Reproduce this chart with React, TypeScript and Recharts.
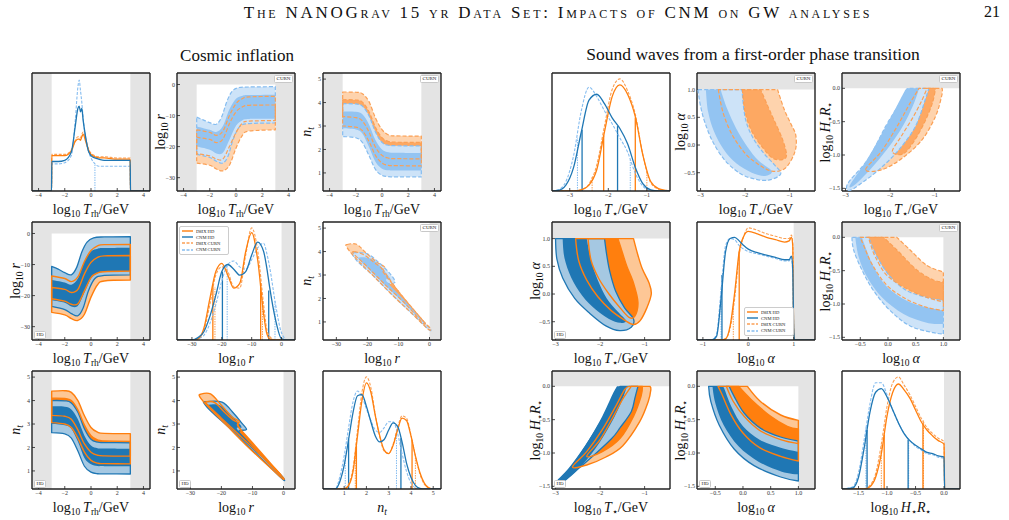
import React from "react";
import {
  ComposedChart,
  Line,
  ReferenceArea,
  ReferenceLine,
  Scatter,
  ScatterChart,
  XAxis,
  YAxis,
} from "recharts";

type Pt = [number, number];
type F = (v: number) => string;

// ---------------- 1D marginals: cosmic inflation ----------------
const trhGrid = [-4.5, -3.01, -2.99, -2.5, -2, -1.5, -1.2, -1.0, -0.9, -0.8, -0.7, -0.6, -0.4, -0.2, 0, 0.3, 0.6, 1, 2, 2.99, 3.01, 4.5];
const trhD8HD = [0, 0, 0.3, 0.3, 0.3, 0.34, 0.42, 0.44, 0.44, 0.43, 0.46, 0.48, 0.42, 0.35, 0.31, 0.29, 0.28, 0.28, 0.27, 0.27, 0, 0];
const trhCnmHD = [0, 0, 0.25, 0.25, 0.26, 0.33, 0.55, 0.7, 0.72, 0.67, 0.7, 0.6, 0.45, 0.34, 0.3, 0.28, 0.27, 0.26, 0.26, 0.26, 0, 0];
const trhD8CU = [0, 0, 0.31, 0.31, 0.31, 0.35, 0.43, 0.46, 0.46, 0.45, 0.48, 0.5, 0.44, 0.36, 0.32, 0.3, 0.29, 0.29, 0.28, 0.28, 0, 0];
const trhCnmCU = [0, 0, 0.23, 0.23, 0.24, 0.3, 0.6, 0.88, 0.94, 0.85, 0.75, 0.62, 0.45, 0.34, 0.28, 0.23, 0.21, 0.21, 0.21, 0.21, 0, 0];
const trhQCnmCU: Pt[] = [[0.3, 0.22]];

const logrGrid = [-35, -30, -28, -26, -24, -22, -20, -18, -16, -14, -12, -10, -8, -6, -5, -4, -2, 0, 2, 4.5];
const logrD8HD = [0, 0, 0.01, 0.1, 0.35, 0.58, 0.65, 0.55, 0.44, 0.48, 0.75, 0.91, 0.68, 0.22, 0.06, 0.01, 0, 0, 0, 0];
const logrCnmHD = [0, 0, 0.02, 0.07, 0.2, 0.38, 0.58, 0.64, 0.6, 0.55, 0.58, 0.72, 0.83, 0.75, 0.62, 0.45, 0.17, 0.01, 0, 0];
const logrD8CU = [0, 0, 0.01, 0.08, 0.3, 0.55, 0.62, 0.58, 0.45, 0.44, 0.72, 0.95, 0.76, 0.3, 0.1, 0.03, 0, 0, 0, 0];
const logrCnmCU = [0, 0, 0.01, 0.04, 0.14, 0.3, 0.5, 0.64, 0.67, 0.62, 0.6, 0.68, 0.78, 0.82, 0.74, 0.62, 0.3, 0.06, 0, 0];
const logrQD8HD: Pt[] = [[-23, 0.47], [-7, 0.46]];
const logrQCnmHD: Pt[] = [[-19.8, 0.58], [-4.3, 0.42]];
const logrQD8CU: Pt[] = [[-22.3, 0.45], [-6.4, 0.35]];
const logrQCnmCU: Pt[] = [[-18.2, 0.64], [-2.2, 0.33]];

const ntGrid = [0.05, 0.6, 0.8, 1.0, 1.2, 1.4, 1.6, 1.8, 2.0, 2.2, 2.4, 2.6, 2.8, 3.0, 3.2, 3.4, 3.6, 3.8, 4.0, 4.2, 4.4, 4.6, 4.8, 5.0, 5.35];
const ntCnmHD = [0, 0, 0.06, 0.2, 0.42, 0.65, 0.79, 0.8, 0.7, 0.57, 0.45, 0.4, 0.42, 0.5, 0.56, 0.53, 0.4, 0.22, 0.1, 0.03, 0.005, 0, 0, 0, 0];
const ntCnmCU = [0, 0, 0.1, 0.28, 0.52, 0.74, 0.83, 0.78, 0.68, 0.58, 0.5, 0.48, 0.52, 0.57, 0.57, 0.47, 0.3, 0.15, 0.05, 0.01, 0, 0, 0, 0, 0];
const ntD8HD = [0, 0, 0, 0, 0.03, 0.15, 0.45, 0.75, 0.9, 0.82, 0.62, 0.45, 0.33, 0.3, 0.37, 0.5, 0.6, 0.58, 0.45, 0.28, 0.14, 0.05, 0.01, 0, 0];
const ntD8CU = [0, 0, 0, 0, 0.04, 0.18, 0.5, 0.82, 0.95, 0.86, 0.63, 0.44, 0.32, 0.3, 0.38, 0.52, 0.62, 0.6, 0.46, 0.28, 0.13, 0.04, 0.01, 0, 0];
const ntQCnmHD: Pt[] = [[1.2, 0.42], [3.55, 0.43]];
const ntQCnmCU: Pt[] = [[1.05, 0.3], [3.35, 0.5]];
const ntQD8HD: Pt[] = [[1.55, 0.37], [4.05, 0.42]];
const ntQD8CU: Pt[] = [[1.5, 0.33], [4.2, 0.28]];

// ---------------- 1D marginals: sound waves ----------------
const tsGrid = [-3.46, -3.3, -3.1, -2.9, -2.7, -2.5, -2.3, -2.1, -1.9, -1.7, -1.5, -1.3, -1.1, -0.9, -0.7, -0.5, -0.4];
const tsCnmHD = [0, 0.005, 0.05, 0.2, 0.5, 0.77, 0.82, 0.74, 0.62, 0.53, 0.4, 0.2, 0.06, 0.01, 0, 0, 0];
const tsCnmCU = [0, 0.01, 0.08, 0.3, 0.68, 0.88, 0.8, 0.68, 0.57, 0.45, 0.33, 0.15, 0.04, 0.005, 0, 0, 0];
const tsD8HD = [0, 0, 0, 0, 0.01, 0.05, 0.18, 0.5, 0.8, 0.9, 0.82, 0.63, 0.3, 0.08, 0.02, 0.005, 0];
const tsD8CU = [0, 0, 0, 0, 0.01, 0.06, 0.22, 0.55, 0.86, 0.95, 0.85, 0.65, 0.3, 0.07, 0.015, 0, 0];
const tsQCnmHD: Pt[] = [[-2.68, 0.52], [-1.76, 0.55]];
const tsQCnmCU: Pt[] = [[-2.8, 0.45], [-1.43, 0.27]];
const tsQD8HD: Pt[] = [[-2.12, 0.47], [-1.3, 0.62]];
const tsQD8CU: Pt[] = [[-2.42, 0.12], [-1.0, 0.17]];

const alGrid = [-1.13, -0.8, -0.7, -0.6, -0.5, -0.4, -0.3, -0.2, -0.1, 0, 0.2, 0.4, 0.6, 0.8, 0.9, 0.95, 0.98, 1.0, 1.02, 1.1, 1.47];
const alCnmHD = [0, 0, 0.03, 0.35, 0.75, 0.86, 0.87, 0.84, 0.8, 0.77, 0.74, 0.72, 0.7, 0.68, 0.68, 0.71, 0.6, 0.1, 0, 0, 0];
const alCnmCU = [0, 0, 0.05, 0.42, 0.8, 0.86, 0.85, 0.8, 0.77, 0.75, 0.73, 0.71, 0.69, 0.67, 0.67, 0.7, 0.55, 0.1, 0, 0, 0];
const alD8HD = [0, 0, 0, 0, 0.01, 0.12, 0.4, 0.75, 0.88, 0.92, 0.9, 0.87, 0.85, 0.83, 0.84, 0.87, 0.8, 0.1, 0, 0, 0];
const alD8CU = [0, 0, 0, 0, 0.01, 0.1, 0.35, 0.72, 0.88, 0.95, 0.93, 0.9, 0.88, 0.86, 0.86, 0.89, 0.82, 0.1, 0, 0, 0];
const alQCnmHD: Pt[] = [[-0.58, 0.55]];
const alQCnmCU: Pt[] = [[-0.6, 0.45]];
const alQD8HD: Pt[] = [[-0.2, 0.75]];
const alQD8CU: Pt[] = [[-0.33, 0.3]];

const hrGrid = [-1.79, -1.6, -1.5, -1.4, -1.3, -1.2, -1.1, -1.0, -0.9, -0.8, -0.7, -0.6, -0.5, -0.4, -0.3, -0.2, -0.1, 0, 0.01, 0.28];
const hrCnmHD = [0, 0.01, 0.1, 0.35, 0.65, 0.82, 0.85, 0.78, 0.67, 0.56, 0.47, 0.41, 0.37, 0.34, 0.31, 0.3, 0.28, 0.27, 0, 0];
const hrCnmCU = [0, 0.02, 0.14, 0.42, 0.72, 0.9, 0.9, 0.8, 0.67, 0.56, 0.47, 0.41, 0.36, 0.33, 0.3, 0.29, 0.27, 0.26, 0, 0];
const hrD8HD = [0, 0, 0, 0, 0.02, 0.1, 0.3, 0.62, 0.82, 0.89, 0.84, 0.77, 0.67, 0.57, 0.5, 0.45, 0.41, 0.38, 0, 0];
const hrD8CU = [0, 0, 0, 0, 0.03, 0.13, 0.38, 0.7, 0.9, 0.95, 0.88, 0.8, 0.7, 0.6, 0.52, 0.47, 0.43, 0.4, 0, 0];
const hrQCnmHD: Pt[] = [[-1.35, 0.5], [-0.63, 0.42]];
const hrQCnmCU: Pt[] = [[-1.37, 0.52], [-0.62, 0.41]];
const hrQD8HD: Pt[] = [[-1.05, 0.46], [-0.37, 0.55]];
const hrQD8CU: Pt[] = [[-1.1, 0.38], [-0.36, 0.58]];

// ---------------- 2D contours: log10 Trh vs log10 r ----------------
const trhRHdB2Up: Pt[] = [[-3, -10.6], [-2.5, -11.5], [-2, -12.6], [-1.5, -13.3], [-1.1, -11], [-0.7, -6], [-0.3, -2.8], [0.2, -1.4], [1, -1.1], [3, -1.0]];
const trhRHdB2Lo: Pt[] = [[-3, -23.5], [-2, -24.5], [-1.5, -25.8], [-1, -26.5], [-0.6, -24], [-0.2, -18.5], [0.3, -14.5], [1, -13.5], [3, -13.3]];
const trhRHdB1Up: Pt[] = [[-3, -15], [-2, -15.8], [-1.5, -16.5], [-1, -14.5], [-0.5, -9], [0, -5.8], [0.5, -4.9], [1, -4.7], [3, -4.6]];
const trhRHdB1Lo: Pt[] = [[-3, -21.5], [-2, -22.3], [-1.5, -23.5], [-1, -23.3], [-0.5, -19], [0, -14.5], [0.5, -12.8], [1, -12.4], [3, -12.2]];
const trhRHdO2Up: Pt[] = [[-3, -13.7], [-2, -14.5], [-1.5, -15.5], [-1, -14], [-0.5, -9], [0, -5.5], [0.5, -4], [1, -3.6], [3, -3.5]];
const trhRHdO2Lo: Pt[] = [[-3, -25.4], [-2, -26.2], [-1.5, -27.4], [-1, -28], [-0.5, -26], [0, -20.5], [0.5, -16.5], [1, -15.3], [3, -15]];
const trhRHdO1Up: Pt[] = [[-3, -17.4], [-2, -18], [-1.5, -19], [-1, -18], [-0.5, -13], [0, -9.3], [0.5, -7.7], [1, -7.2], [3, -7.1]];
const trhRHdO1Lo: Pt[] = [[-3, -21], [-2, -21.8], [-1.5, -22.8], [-1, -22.6], [-0.5, -18.5], [0, -14.2], [0.5, -12.7], [1, -12.3], [3, -12.1]];

const trhRCuB2Up: Pt[] = [[-3, -10.5], [-2.5, -11.4], [-2, -12.3], [-1.5, -12.8], [-1.1, -10.5], [-0.7, -5.5], [-0.3, -2.2], [0.2, -1.0], [1, -0.8], [3, -0.7]];
const trhRCuB2Lo: Pt[] = [[-3, -22.5], [-2, -23.5], [-1.5, -24.7], [-1, -25.3], [-0.6, -23], [-0.2, -17.5], [0.3, -13.5], [1, -12.6], [3, -12.4]];
const trhRCuB1Up: Pt[] = [[-3, -13.5], [-2, -14.6], [-1.5, -15.3], [-1, -13.4], [-0.5, -8], [0, -4.6], [0.5, -3.6], [1, -3.4], [3, -3.3]];
const trhRCuB1Lo: Pt[] = [[-3, -20], [-2, -21], [-1.5, -22.2], [-1, -22], [-0.5, -17.8], [0, -13.3], [0.5, -11.5], [1, -11.1], [3, -11]];
const trhRCuO2Up: Pt[] = [[-3, -14.6], [-2, -15.4], [-1.5, -16.4], [-1, -15], [-0.5, -10], [0, -6.2], [0.5, -4.5], [1, -4], [3, -3.8]];
const trhRCuO2Lo: Pt[] = [[-3, -25.3], [-2, -26], [-1.5, -27.2], [-1, -27.8], [-0.5, -26], [0, -20.5], [0.5, -16.3], [1, -15], [3, -14.6]];
const trhRCuO1Up: Pt[] = [[-3, -17], [-2, -17.7], [-1.5, -18.7], [-1, -17.6], [-0.5, -12.6], [0, -8.8], [0.5, -7.2], [1, -6.7], [3, -6.6]];
const trhRCuO1Lo: Pt[] = [[-3, -22.3], [-2, -23], [-1.5, -24], [-1, -24], [-0.5, -20], [0, -15.5], [0.5, -12.4], [1, -11.8], [3, -11.6]];

// ---------------- 2D contours: log10 Trh vs n_t ----------------
const trhNHdO2Up: Pt[] = [[-3, 4.4], [-2, 4.42], [-1.5, 4.35], [-1, 4.0], [-0.5, 3.35], [0, 2.85], [0.5, 2.65], [1, 2.6], [3, 2.59]];
const trhNHdO2Lo: Pt[] = [[-3, 3.06], [-2, 3.0], [-1.5, 2.85], [-1, 2.4], [-0.5, 1.8], [0, 1.45], [0.5, 1.33], [1, 1.31], [3, 1.3]];
const trhNHdO1Up: Pt[] = [[-3, 4.1], [-2, 4.09], [-1.5, 4.0], [-1, 3.6], [-0.5, 2.95], [0, 2.5], [0.5, 2.32], [1, 2.28], [3, 2.26]];
const trhNHdO1Lo: Pt[] = [[-3, 3.37], [-2, 3.33], [-1.5, 3.2], [-1, 2.75], [-0.5, 2.15], [0, 1.8], [0.5, 1.67], [1, 1.64], [3, 1.63]];
const trhNHdB2Up: Pt[] = [[-3, 4.0], [-2, 3.99], [-1.5, 3.9], [-1, 3.5], [-0.5, 2.8], [0, 2.35], [0.5, 2.23], [1, 2.21], [3, 2.2]];
const trhNHdB2Lo: Pt[] = [[-3, 2.63], [-2, 2.58], [-1.5, 2.4], [-1, 1.85], [-0.5, 1.2], [0, 0.95], [0.5, 0.88], [1, 0.875], [3, 0.87]];
const trhNHdB1Up: Pt[] = [[-3, 3.75], [-2, 3.74], [-1.5, 3.62], [-1, 3.2], [-0.5, 2.5], [0, 2.08], [0.5, 1.97], [1, 1.96], [3, 1.95]];
const trhNHdB1Lo: Pt[] = [[-3, 3.0], [-2, 2.95], [-1.5, 2.8], [-1, 2.25], [-0.5, 1.55], [0, 1.28], [0.5, 1.21], [1, 1.205], [3, 1.2]];

const trhNCuO2Up: Pt[] = [[-3, 4.45], [-2, 4.44], [-1.5, 4.38], [-1, 4.05], [-0.5, 3.35], [0, 2.85], [0.5, 2.62], [1, 2.58], [3, 2.57]];
const trhNCuO2Lo: Pt[] = [[-3, 3.0], [-2, 2.95], [-1.5, 2.8], [-1, 2.35], [-0.5, 1.75], [0, 1.42], [0.5, 1.32], [1, 1.31], [3, 1.3]];
const trhNCuO1Up: Pt[] = [[-3, 4.12], [-2, 4.11], [-1.5, 4.02], [-1, 3.62], [-0.5, 2.95], [0, 2.5], [0.5, 2.34], [1, 2.31], [3, 2.3]];
const trhNCuO1Lo: Pt[] = [[-3, 3.4], [-2, 3.36], [-1.5, 3.22], [-1, 2.75], [-0.5, 2.1], [0, 1.75], [0.5, 1.63], [1, 1.61], [3, 1.6]];
const trhNCuB2Up: Pt[] = [[-3, 3.95], [-2, 3.94], [-1.5, 3.85], [-1, 3.45], [-0.5, 2.75], [0, 2.3], [0.5, 2.18], [1, 2.16], [3, 2.15]];
const trhNCuB2Lo: Pt[] = [[-3, 2.55], [-2, 2.5], [-1.5, 2.3], [-1, 1.75], [-0.5, 1.15], [0, 0.9], [0.5, 0.84], [1, 0.835], [3, 0.83]];
const trhNCuB1Up: Pt[] = [[-3, 3.62], [-2, 3.61], [-1.5, 3.5], [-1, 3.08], [-0.5, 2.4], [0, 2.0], [0.5, 1.88], [1, 1.86], [3, 1.85]];
const trhNCuB1Lo: Pt[] = [[-3, 2.9], [-2, 2.85], [-1.5, 2.68], [-1, 2.12], [-0.5, 1.48], [0, 1.18], [0.5, 1.11], [1, 1.105], [3, 1.1]];

// ---------------- 2D contours: log10 r vs n_t ----------------
const rNHdO2: Pt[] = [[-26.7, 4.27], [-23.5, 4.28], [-20, 3.8], [-16.6, 3.3], [-14.3, 3.12], [-14.5, 2.9], [-10, 2.1], [-5, 1.4], [-1, 0.85], [0.1, 0.68], [-0.6, 0.7], [-6, 1.35], [-12, 2.1], [-18, 2.9], [-24, 3.7], [-26.9, 4.15]];
const rNHdO1: Pt[] = [[-24.5, 3.95], [-22, 3.9], [-19, 3.5], [-16.5, 3.2], [-14.5, 3.05], [-14.6, 2.9], [-10, 2.2], [-4, 1.3], [-1, 0.85], [-2, 0.95], [-8, 1.75], [-14, 2.5], [-20, 3.25], [-24.7, 3.85]];
const rNHdB2: Pt[] = [[-25.2, 3.95], [-19.8, 3.93], [-16, 3.45], [-13.5, 3.05], [-11.9, 2.77], [-14, 2.72], [-14.2, 2.6], [-10, 2.05], [-5, 1.38], [-1, 0.85], [0.2, 0.66], [-0.3, 0.65], [-6, 1.38], [-12, 2.12], [-18, 2.9], [-23, 3.5], [-25.4, 3.85]];
const rNHdB1: Pt[] = [[-24, 3.82], [-20.5, 3.8], [-17, 3.4], [-14.5, 3.05], [-13.5, 2.85], [-15, 2.8], [-11, 2.2], [-6, 1.5], [-2, 1.0], [-1.6, 0.93], [-7, 1.58], [-13, 2.3], [-19, 3.1], [-24.2, 3.75]];

const rNCuO2: Pt[] = [[-26.5, 4.3], [-23.5, 4.31], [-20.5, 3.95], [-17, 3.55], [-14.5, 3.35], [-14.8, 3.2], [-10, 2.3], [-5, 1.5], [-1, 0.9], [0.3, 0.72], [-0.5, 0.7], [-6, 1.4], [-12, 2.15], [-18, 2.95], [-24, 3.75], [-26.7, 4.2]];
const rNCuO1: Pt[] = [[-24.2, 4.0], [-21, 3.85], [-18, 3.55], [-15.5, 3.3], [-14.8, 3.1], [-10, 2.3], [-4, 1.35], [-1.5, 0.95], [-2.5, 1.0], [-8, 1.8], [-14, 2.55], [-20, 3.35], [-24.4, 3.9]];
const rNCuB2: Pt[] = [[-24.5, 3.95], [-20, 3.9], [-16.5, 3.55], [-13, 3.1], [-11.1, 2.72], [-12.5, 2.62], [-13.5, 2.62], [-10, 2.1], [-5, 1.42], [-1, 0.88], [0.3, 0.7], [-0.3, 0.68], [-6, 1.4], [-12, 2.15], [-18, 2.95], [-23, 3.55], [-24.7, 3.85]];
const rNCuB1: Pt[] = [[-22.5, 3.75], [-19, 3.7], [-16, 3.4], [-13.5, 3.0], [-12.5, 2.8], [-14, 2.78], [-10.5, 2.25], [-5, 1.5], [-2, 1.05], [-2.5, 1.05], [-7, 1.65], [-13, 2.4], [-18.5, 3.1], [-22.6, 3.65]];

// ---------------- 2D contours: log10 T* vs log10 alpha ----------------
const taCuB2: Pt[] = [[-3.06, 1.0], [-3.0, 0.7], [-2.9, 0.4], [-2.72, 0.05], [-2.45, -0.28], [-2.1, -0.52], [-1.75, -0.62], [-1.45, -0.63], [-1.2, -0.52], [-1.35, -0.35], [-1.6, -0.13], [-1.85, 0.17], [-2.0, 0.5], [-2.07, 1.0]];
const taCuB1: Pt[] = [[-2.88, 1.0], [-2.83, 0.6], [-2.7, 0.25], [-2.48, -0.08], [-2.2, -0.33], [-1.85, -0.5], [-1.55, -0.56], [-1.4, -0.47], [-1.7, -0.28], [-1.95, -0.03], [-2.2, 0.3], [-2.4, 0.65], [-2.55, 1.0]];
const taCuO2: Pt[] = [[-2.6, 1.0], [-2.5, 0.6], [-2.3, 0.2], [-2.0, -0.15], [-1.7, -0.35], [-1.4, -0.47], [-1.1, -0.42], [-0.88, -0.12], [-0.86, 0.17], [-0.97, 0.38], [-1.12, 0.64], [-1.27, 1.0]];
const taCuO1: Pt[] = [[-2.06, 1.0], [-2.0, 0.6], [-1.85, 0.25], [-1.6, -0.05], [-1.35, -0.25], [-1.08, -0.22], [-1.15, 0.08], [-1.35, 0.45], [-1.5, 0.72], [-1.65, 1.0]];

const taHdB2: Pt[] = [[-3.0, 1.0], [-2.97, 0.63], [-2.84, 0.29], [-2.57, -0.08], [-2.23, -0.35], [-1.86, -0.58], [-1.56, -0.66], [-1.3, -0.6], [-1.25, -0.45], [-1.45, -0.25], [-1.65, 0.05], [-1.78, 0.4], [-1.85, 0.7], [-1.9, 1.0]];
const taHdB1: Pt[] = [[-2.84, 1.0], [-2.8, 0.65], [-2.65, 0.3], [-2.4, -0.03], [-2.1, -0.28], [-1.8, -0.45], [-1.55, -0.52], [-1.42, -0.48], [-1.6, -0.32], [-1.85, -0.08], [-2.05, 0.25], [-2.2, 0.6], [-2.3, 1.0]];
const taHdO2: Pt[] = [[-2.55, 1.0], [-2.48, 0.6], [-2.3, 0.25], [-2.05, -0.05], [-1.75, -0.3], [-1.45, -0.47], [-1.25, -0.55], [-1.1, -0.48], [-0.95, -0.25], [-0.85, 0.0], [-0.9, 0.2], [-1.05, 0.45], [-1.15, 0.7], [-1.25, 1.0]];
const taHdO1: Pt[] = [[-2.27, 1.0], [-2.2, 0.6], [-2.03, 0.28], [-1.8, 0.0], [-1.55, -0.25], [-1.35, -0.42], [-1.22, -0.4], [-1.15, -0.15], [-1.25, 0.2], [-1.4, 0.5], [-1.5, 0.75], [-1.6, 1.0]];

// ---------------- 2D contours: log10 T* vs log10 H*R* ----------------
const thCuB2: Pt[] = [[-2.98, -1.5], [-2.9, -1.38], [-2.48, -1.05], [-2.1, -0.57], [-1.8, -0.24], [-1.6, 0], [-1.13, 0], [-1.2, -0.15], [-1.43, -0.57], [-1.8, -0.92], [-2.25, -1.22], [-2.7, -1.45], [-2.9, -1.53]];
const thCuB1: Pt[] = [[-2.9, -1.45], [-2.55, -1.1], [-2.2, -0.7], [-1.9, -0.33], [-1.68, -0.05], [-1.62, 0], [-1.35, 0], [-1.45, -0.2], [-1.7, -0.55], [-2.05, -0.9], [-2.45, -1.22], [-2.8, -1.45]];
const thCuO2: Pt[] = [[-2.55, -1.22], [-2.2, -0.95], [-1.85, -0.58], [-1.55, -0.22], [-1.35, 0], [-0.83, 0], [-0.84, -0.11], [-0.98, -0.42], [-1.28, -0.77], [-1.73, -1.05], [-2.18, -1.22]];
const thCuO1: Pt[] = [[-1.95, -0.95], [-1.75, -0.72], [-1.5, -0.45], [-1.3, -0.2], [-1.17, 0], [-0.98, 0], [-1.05, -0.22], [-1.22, -0.5], [-1.45, -0.78], [-1.7, -0.98]];

const thHdB2: Pt[] = [[-3.0, -1.45], [-2.7, -1.24], [-2.32, -0.89], [-1.94, -0.48], [-1.68, -0.13], [-1.55, 0], [-1.15, 0], [-1.22, -0.18], [-1.3, -0.38], [-1.55, -0.62], [-1.75, -0.79], [-2.32, -1.14], [-2.77, -1.39], [-2.95, -1.5]];
const thHdB1: Pt[] = [[-2.95, -1.43], [-2.6, -1.15], [-2.25, -0.8], [-1.95, -0.45], [-1.72, -0.12], [-1.62, 0], [-1.4, 0], [-1.5, -0.2], [-1.75, -0.55], [-2.1, -0.93], [-2.5, -1.25], [-2.85, -1.45]];
const thHdO2: Pt[] = [[-2.62, -1.21], [-2.3, -0.98], [-1.95, -0.65], [-1.65, -0.3], [-1.45, -0.05], [-1.35, 0], [-0.88, 0], [-0.86, -0.05], [-0.92, -0.23], [-1.11, -0.53], [-1.49, -0.89], [-1.87, -1.06], [-2.3, -1.18]];
const thHdO1: Pt[] = [[-2.3, -1.05], [-2.0, -0.8], [-1.7, -0.45], [-1.5, -0.2], [-1.3, 0], [-1.05, 0], [-1.08, -0.15], [-1.25, -0.45], [-1.55, -0.78], [-1.95, -0.98]];

// ---------------- 2D contours: log10 alpha vs log10 H*R* ----------------
const ahCuB2: Pt[] = [[-0.65, 0], [-0.62, -0.19], [-0.47, -0.49], [-0.26, -0.8], [0.04, -1.1], [0.4, -1.33], [0.82, -1.43], [1.0, -1.45], [1.0, -0.95], [0.7, -0.9], [0.34, -0.8], [0.04, -0.59], [-0.2, -0.29], [-0.32, -0.06], [-0.35, 0]];
const ahCuB1: Pt[] = [[-0.59, 0], [-0.53, -0.29], [-0.38, -0.59], [-0.11, -0.9], [0.28, -1.15], [0.7, -1.28], [1.0, -1.3], [1.0, -1.1], [0.7, -1.05], [0.34, -0.95], [-0.02, -0.74], [-0.26, -0.44], [-0.41, -0.14], [-0.47, 0]];
const ahCuO2: Pt[] = [[-0.5, 0], [0.16, 0], [0.4, -0.19], [0.7, -0.42], [1.0, -0.52], [1.0, -1.1], [0.7, -1.05], [0.34, -0.93], [-0.02, -0.72], [-0.29, -0.4], [-0.44, -0.12]];
const ahCuO1: Pt[] = [[-0.35, 0], [-0.08, 0], [0.16, -0.19], [0.52, -0.49], [0.82, -0.64], [1.0, -0.67], [1.0, -0.97], [0.7, -0.9], [0.34, -0.77], [-0.02, -0.57], [-0.23, -0.29], [-0.32, -0.09]];

const ahHdB2: Pt[] = [[-0.62, 0], [-0.58, -0.23], [-0.43, -0.58], [-0.16, -0.94], [0.2, -1.19], [0.68, -1.36], [1.0, -1.42], [1.0, -0.82], [0.68, -0.76], [0.32, -0.63], [0.02, -0.4], [-0.16, -0.15], [-0.25, 0]];
const ahHdB1: Pt[] = [[-0.55, 0], [-0.5, -0.25], [-0.35, -0.58], [-0.08, -0.9], [0.28, -1.13], [0.7, -1.28], [1.0, -1.32], [1.0, -0.98], [0.68, -0.92], [0.3, -0.8], [0.0, -0.6], [-0.2, -0.32], [-0.33, -0.05], [-0.36, 0]];
const ahHdO2: Pt[] = [[-0.45, 0], [0.08, 0], [0.32, -0.23], [0.68, -0.43], [1.0, -0.51], [1.0, -1.12], [0.68, -1.05], [0.3, -0.92], [0.0, -0.7], [-0.22, -0.42], [-0.38, -0.12]];
const ahHdO1: Pt[] = [[-0.3, 0], [-0.08, 0], [0.15, -0.2], [0.5, -0.45], [0.8, -0.6], [1.0, -0.64], [1.0, -0.86], [0.68, -0.8], [0.3, -0.66], [0.02, -0.45], [-0.18, -0.22]];

// ---------------- axis ticks ----------------
const trhTicks = [-4, -2, 0, 2, 4];
const logrTicks = [-30, -20, -10, 0];
const ntTicks = [1, 2, 3, 4, 5];
const tsTicks = [-3, -2, -1];
const alTicks2D = [-0.5, 0, 0.5, 1];
const alTicks1D = [-1, 0, 1];
const hrTicks = [-1.5, -1, -0.5, 0];
const densTicks = [0.2, 0.4, 0.6, 0.8];

// ---------------- styling ----------------
const HD_B = "#1f77b4";
const HD_B2 = "#a5c8e2";
const HD_O = "#ff7f0e";
const HD_O2 = "#fdc796";
const CU_BL = "#86bdf0";
const CU_B1 = "#93c4f2";
const CU_B2 = "#cde3f8";
const CU_OL = "#fba055";
const CU_O1 = "#fda862";
const CU_O2 = "#fed3ad";
const GREY = "#e4e4e4";
const FRAME = "#222";
const SERIF = "'Liberation Serif','DejaVu Serif','Times New Roman',serif";

const SIZE = 118;
const YW = 20;
const XH = 11;

const fmtInt: F = (v) => String(v).replace("-", "\u2212");
const fmt1: F = (v) => v.toFixed(1).replace("-", "\u2212");

type Spec = {
  x: number;
  y: number;
  xd: [number, number];
  yd: [number, number];
  xt: number[];
  yt: number[];
  xf: F;
  yf?: F;
  gx?: [number, number][];
  gy?: [number, number][];
};
type Clip = { x: number[]; y: number[] };

const band = (up: Pt[], lo: Pt[]): Pt[] => [...up, ...lo.slice().reverse()];

function pathOf(pts: { x: number; y: number }[], corner: boolean[]) {
  const n = pts.length;
  const k = 1 / 6;
  let d = `M${pts[0].x},${pts[0].y}`;
  for (let i = 0; i < n; i++) {
    const p0 = pts[(i - 1 + n) % n];
    const p1 = pts[i];
    const p2 = pts[(i + 1) % n];
    const p3 = pts[(i + 2) % n];
    const c1 = corner[i] ? p1 : { x: p1.x + (p2.x - p0.x) * k, y: p1.y + (p2.y - p0.y) * k };
    const c2 = corner[(i + 1) % n] ? p2 : { x: p2.x - (p3.x - p1.x) * k, y: p2.y - (p3.y - p1.y) * k };
    d += `C${c1.x},${c1.y} ${c2.x},${c2.y} ${p2.x},${p2.y}`;
  }
  return d + "Z";
}

function poly(key: string, pts: Pt[], clip: Clip, fill: string, stroke = "none", dash?: string, sw = 1.2) {
  const n = pts.length;
  const corner = pts.map((p, i) =>
    [pts[(i - 1 + n) % n], pts[(i + 1) % n]].some(
      (q) => (q[0] === p[0] && clip.x.includes(p[0])) || (q[1] === p[1] && clip.y.includes(p[1]))
    )
  );
  return (
    <Scatter
      key={key}
      data={pts.map(([x, y]) => ({ x, y }))}
      isAnimationActive={false}
      legendType="none"
      shape={() => <g />}
      line={(lp: any) => (
        <path
          d={pathOf(lp.points, corner)}
          fill={fill}
          stroke={stroke}
          strokeWidth={sw}
          strokeDasharray={dash}
          strokeLinejoin="round"
        />
      )}
    />
  );
}

// orange fills under blue, orange outlines on top
function hdSet(k: string, o2: Pt[], o1: Pt[], b2: Pt[], b1: Pt[], c: Clip) {
  return [
    poly(k + "o2", o2, c, HD_O2),
    poly(k + "o1", o1, c, HD_O),
    poly(k + "b2", b2, c, HD_B2, HD_B, undefined, 1.3),
    poly(k + "b1", b1, c, HD_B),
    poly(k + "o2l", o2, c, "none", HD_O, undefined, 1.4),
    poly(k + "o1l", o1, c, "none", HD_O, undefined, 1.4),
  ];
}

function cuSet(k: string, o2: Pt[], o1: Pt[], b2: Pt[], b1: Pt[], c: Clip) {
  return [
    poly(k + "o2", o2, c, CU_O2),
    poly(k + "o1", o1, c, CU_O1),
    poly(k + "b2", b2, c, CU_B2, CU_BL, "4 2", 1.2),
    poly(k + "b1", b1, c, CU_B1),
    poly(k + "o2l", o2, c, "none", CU_OL, "4 2", 1.2),
    poly(k + "o1l", o1, c, "none", CU_OL, "4 2", 1.2),
  ];
}

const tickStyle = { fontSize: 6, fill: "#333", fontFamily: SERIF };
const axisLine = { stroke: FRAME, strokeWidth: 1.4 };
const tickLine = { stroke: FRAME, strokeWidth: 0.8 };

function frame(s: Spec, twoD: boolean) {
  return [
    <XAxis key="xb" xAxisId={0} dataKey="x" type="number" domain={s.xd} ticks={s.xt} interval={0} allowDataOverflow height={XH} tickSize={-3} tickMargin={5} tick={tickStyle} tickFormatter={s.xf} axisLine={axisLine} tickLine={tickLine} />,
    <XAxis key="xt" xAxisId="t" orientation="top" type="number" domain={s.xd} ticks={s.xt} interval={0} allowDataOverflow height={1} tickSize={-3} tick={false} axisLine={axisLine} tickLine={tickLine} />,
    <YAxis key="yl" yAxisId={0} dataKey={twoD ? "y" : undefined} type="number" domain={s.yd} ticks={s.yt} interval={0} allowDataOverflow width={YW} tickSize={-3} tickMargin={5} tick={s.yf ? tickStyle : false} tickFormatter={s.yf} axisLine={axisLine} tickLine={tickLine} />,
    <YAxis key="yr" yAxisId="r" orientation="right" type="number" domain={s.yd} ticks={s.yt} interval={0} allowDataOverflow width={1} tickSize={-3} tick={false} axisLine={axisLine} tickLine={tickLine} />,
  ];
}

function greys(s: Spec) {
  return [
    ...(s.gx || []).map(([a, b], i) => (
      <ReferenceArea key={"gx" + i} x1={a} x2={b} fill={GREY} fillOpacity={1} stroke="none" ifOverflow="hidden" />
    )),
    ...(s.gy || []).map(([a, b], i) => (
      <ReferenceArea key={"gy" + i} y1={a} y2={b} fill={GREY} fillOpacity={1} stroke="none" ifOverflow="hidden" />
    )),
  ];
}

function Panel2D({ s, children }: { s: Spec; children: React.ReactNode }) {
  return (
    <div style={{ position: "absolute", left: s.x - YW, top: s.y - 3 }}>
      <ScatterChart width={SIZE + YW + 3} height={SIZE + XH + 3} margin={{ top: 2, right: 2, bottom: 0, left: 0 }}>
        {frame(s, true)}
        {greys(s)}
        {children}
      </ScatterChart>
    </div>
  );
}

type Quants = { oh: Pt[]; bh: Pt[]; oc: Pt[]; bc: Pt[] };

function quantLines(q: Quants) {
  const mk = (arr: Pt[], color: string, dash: string | undefined, k: string) =>
    arr.map(([x, h], i) => (
      <ReferenceLine key={k + i} segment={[{ x, y: 0 }, { x, y: h }]} stroke={color} strokeWidth={dash ? 1 : 1.3} strokeDasharray={dash} />
    ));
  return [
    ...mk(q.oc, CU_OL, "1.5 1", "qoc"),
    ...mk(q.bc, CU_BL, "1.5 1", "qbc"),
    ...mk(q.oh, HD_O, undefined, "qoh"),
    ...mk(q.bh, HD_B, undefined, "qbh"),
  ];
}

function Marginal({ s, grid, oh, bh, oc, bc, q }: { s: Spec; grid: number[]; oh: number[]; bh: number[]; oc: number[]; bc: number[]; q: Quants }) {
  const rows = grid.map((x, i) => ({ x, oh: oh[i], bh: bh[i], oc: oc[i], bc: bc[i] }));
  return (
    <div style={{ position: "absolute", left: s.x - YW, top: s.y - 3 }}>
      <ComposedChart width={SIZE + YW + 3} height={SIZE + XH + 3} data={rows} margin={{ top: 2, right: 2, bottom: 0, left: 0 }}>
        {frame(s, false)}
        {greys(s)}
        {quantLines(q)}
        <Line dataKey="oc" type="monotone" stroke={CU_OL} strokeWidth={1.1} strokeDasharray="3 1.5" dot={false} isAnimationActive={false} />
        <Line dataKey="bc" type="monotone" stroke={CU_BL} strokeWidth={1.1} strokeDasharray="3 1.5" dot={false} isAnimationActive={false} />
        <Line dataKey="oh" type="monotone" stroke={HD_O} strokeWidth={1.3} dot={false} isAnimationActive={false} />
        <Line dataKey="bh" type="monotone" stroke={HD_B} strokeWidth={1.3} dot={false} isAnimationActive={false} />
      </ComposedChart>
    </div>
  );
}

// ---------------- text helpers ----------------
const sub = (t: React.ReactNode) => (
  <sub style={{ fontSize: "0.68em", verticalAlign: "-0.32em", lineHeight: 0 }}>{t}</sub>
);
const STAR = "\u22C6";
const L = {
  trh: <>log{sub("10")}&thinsp;<i>T</i>{sub("rh")}/GeV</>,
  r: <>log{sub("10")}&thinsp;<i>r</i></>,
  nt: <><i>n</i>{sub(<i>t</i>)}</>,
  ts: <>log{sub("10")}&thinsp;<i>T</i>{sub(STAR)}/GeV</>,
  al: <>log{sub("10")}&thinsp;<i>α</i></>,
  hr: <>log{sub("10")}&thinsp;<i>H</i>{sub(STAR)}<i>R</i>{sub(STAR)}</>,
};

function Txt({ x, y, rot, size = 14, children, style }: { x: number; y: number; rot?: boolean; size?: number; children: React.ReactNode; style?: React.CSSProperties }) {
  return (
    <div
      style={{
        position: "absolute",
        left: x,
        top: y,
        transform: `translate(-50%,-50%)${rot ? " rotate(-90deg)" : ""}`,
        fontSize: size,
        fontFamily: SERIF,
        whiteSpace: "nowrap",
        lineHeight: 1,
        color: "#111",
        ...style,
      }}
    >
      {children}
    </div>
  );
}

function Badge({ s, kind }: { s: Spec; kind: "CURN" | "HD" }) {
  const base: React.CSSProperties = {
    position: "absolute",
    fontSize: 5,
    fontFamily: SERIF,
    lineHeight: "6px",
    padding: "0 1.5px",
    background: "white",
    border: "0.6px solid #c8c8c8",
    borderRadius: 1.5,
    color: "#222",
  };
  return kind === "CURN" ? (
    <div style={{ ...base, right: 1009 - (s.x + SIZE - 2), top: s.y + 2 }}>CURN</div>
  ) : (
    <div style={{ ...base, left: s.x + 2, top: s.y + SIZE - 9 }}>HD</div>
  );
}

const legendItems: [string, string, string | undefined][] = [
  ["D8IX HD", HD_O, undefined],
  ["CNM HD", HD_B, undefined],
  ["D8IX CURN", CU_OL, "3 1.5"],
  ["CNM CURN", CU_BL, "3 1.5"],
];

function LegendBox({ x, y }: { x: number; y: number }) {
  return (
    <div
      style={{
        position: "absolute",
        left: x,
        top: y,
        width: 44,
        padding: "1px 2px",
        background: "white",
        border: "0.6px solid #ccc",
        borderRadius: 2,
        fontFamily: SERIF,
        fontSize: 4.6,
        color: "#222",
      }}
    >
      {legendItems.map(([name, color, dash]) => (
        <div key={name} style={{ display: "flex", alignItems: "center", height: 6.2 }}>
          <svg width={11} height={4} style={{ marginRight: 3 }}>
            <line x1={0} y1={2} x2={11} y2={2} stroke={color} strokeWidth={1.4} strokeDasharray={dash} />
          </svg>
          {name}
        </div>
      ))}
    </div>
  );
}

// ---------------- layout ----------------
const colL = [32, 177, 323];
const colR = [552, 697, 842];
const rows = [73, 222, 371];

const trhClip: Clip = { x: [-3, 3], y: [] };
const noClip: Clip = { x: [], y: [] };
const taClip: Clip = { x: [], y: [1.0] };
const thClip: Clip = { x: [], y: [0] };
const ahClip: Clip = { x: [1.0], y: [0] };

const D_TRH: [number, number] = [-4.5, 4.5];
const D_R2: [number, number] = [-34.3, 3.7];
const D_NT: [number, number] = [0.23, 5.26];
const D_TS2: [number, number] = [-3.08, -0.43];
const D_AL2: [number, number] = [-0.83, 1.3];
const D_HR2: [number, number] = [-1.54, 0.23];
const D_DENS: [number, number] = [0, 1];

const trhGreys: [number, number][] = [[-4.5, -3], [3, 4.5]];

const P = {
  p11: { x: colL[0], y: rows[0], xd: D_TRH, yd: D_DENS, xt: trhTicks, yt: densTicks, xf: fmtInt, gx: trhGreys } as Spec,
  p12: { x: colL[1], y: rows[0], xd: D_TRH, yd: D_R2, xt: trhTicks, yt: logrTicks, xf: fmtInt, yf: fmtInt, gx: trhGreys, gy: [[0, 3.7]] } as Spec,
  p13: { x: colL[2], y: rows[0], xd: D_TRH, yd: D_NT, xt: trhTicks, yt: ntTicks, xf: fmtInt, yf: fmtInt, gx: trhGreys } as Spec,
  p21: { x: colL[0], y: rows[1], xd: D_TRH, yd: D_R2, xt: trhTicks, yt: logrTicks, xf: fmtInt, yf: fmtInt, gx: trhGreys, gy: [[0, 3.7]] } as Spec,
  p22: { x: colL[1], y: rows[1], xd: [-35, 4.5], yd: D_DENS, xt: logrTicks, yt: densTicks, xf: fmtInt, gx: [[0, 4.5]] } as Spec,
  p23: { x: colL[2], y: rows[1], xd: D_R2, yd: D_NT, xt: logrTicks, yt: ntTicks, xf: fmtInt, yf: fmtInt, gx: [[0, 3.7]] } as Spec,
  p31: { x: colL[0], y: rows[2], xd: D_TRH, yd: D_NT, xt: trhTicks, yt: ntTicks, xf: fmtInt, yf: fmtInt, gx: trhGreys } as Spec,
  p32: { x: colL[1], y: rows[2], xd: D_R2, yd: D_NT, xt: logrTicks, yt: ntTicks, xf: fmtInt, yf: fmtInt, gx: [[0, 3.7]] } as Spec,
  p33: { x: colL[2], y: rows[2], xd: [0.05, 5.35], yd: D_DENS, xt: ntTicks, yt: densTicks, xf: fmtInt } as Spec,

  q11: { x: colR[0], y: rows[0], xd: [-3.46, -0.4], yd: D_DENS, xt: tsTicks, yt: densTicks, xf: fmtInt } as Spec,
  q12: { x: colR[1], y: rows[0], xd: D_TS2, yd: D_AL2, xt: tsTicks, yt: alTicks2D, xf: fmtInt, yf: fmt1, gy: [[1, 1.3]] } as Spec,
  q13: { x: colR[2], y: rows[0], xd: D_TS2, yd: D_HR2, xt: tsTicks, yt: hrTicks, xf: fmtInt, yf: fmt1, gy: [[0, 0.23]] } as Spec,
  q21: { x: colR[0], y: rows[1], xd: D_TS2, yd: D_AL2, xt: tsTicks, yt: alTicks2D, xf: fmtInt, yf: fmt1, gy: [[1, 1.3]] } as Spec,
  q22: { x: colR[1], y: rows[1], xd: [-1.13, 1.47], yd: D_DENS, xt: alTicks1D, yt: densTicks, xf: fmtInt, gx: [[1, 1.47]] } as Spec,
  q23: { x: colR[2], y: rows[1], xd: D_AL2, yd: D_HR2, xt: alTicks2D, yt: hrTicks, xf: fmt1, yf: fmt1, gx: [[1, 1.3]], gy: [[0, 0.23]] } as Spec,
  q31: { x: colR[0], y: rows[2], xd: D_TS2, yd: D_HR2, xt: tsTicks, yt: hrTicks, xf: fmtInt, yf: fmt1, gy: [[0, 0.23]] } as Spec,
  q32: { x: colR[1], y: rows[2], xd: D_AL2, yd: D_HR2, xt: alTicks2D, yt: hrTicks, xf: fmt1, yf: fmt1, gx: [[1, 1.3]], gy: [[0, 0.23]] } as Spec,
  q33: { x: colR[2], y: rows[2], xd: [-1.79, 0.28], yd: D_DENS, xt: hrTicks, yt: densTicks, xf: fmt1, gx: [[0, 0.28]] } as Spec,
};

const xLab = (s: Spec, lab: React.ReactNode, k: string) => (
  <Txt key={k} x={s.x + SIZE / 2} y={s.y + SIZE + 19}>{lab}</Txt>
);
const yLab = (s: Spec, lab: React.ReactNode, k: string) => (
  <Txt key={k} x={s.x - 16} y={s.y + SIZE / 2} rot>{lab}</Txt>
);

export default function App() {
  return (
    <div style={{ position: "absolute", left: 0, top: 0, width: 1009, height: 520, background: "white", overflow: "hidden" }}>
      <Txt x={558} y={12} size={17} style={{ fontVariant: "small-caps", letterSpacing: 2.75 }}>
        The NANOGrav 15 yr Data Set: Impacts of CNM on GW analyses
      </Txt>
      <Txt x={992} y={12} size={16}>21</Txt>
      <Txt x={237} y={55} size={17}>Cosmic inflation</Txt>
      <Txt x={753} y={55} size={17.5}>Sound waves from a first-order phase transition</Txt>

      {/* ---------- cosmic inflation ---------- */}
      <Marginal s={P.p11} grid={trhGrid} oh={trhD8HD} bh={trhCnmHD} oc={trhD8CU} bc={trhCnmCU} q={{ oh: [], bh: [], oc: [], bc: trhQCnmCU }} />
      <Panel2D s={P.p12}>{cuSet("a", band(trhRCuO2Up, trhRCuO2Lo), band(trhRCuO1Up, trhRCuO1Lo), band(trhRCuB2Up, trhRCuB2Lo), band(trhRCuB1Up, trhRCuB1Lo), trhClip)}</Panel2D>
      <Panel2D s={P.p13}>{cuSet("b", band(trhNCuO2Up, trhNCuO2Lo), band(trhNCuO1Up, trhNCuO1Lo), band(trhNCuB2Up, trhNCuB2Lo), band(trhNCuB1Up, trhNCuB1Lo), trhClip)}</Panel2D>
      <Panel2D s={P.p21}>{hdSet("c", band(trhRHdO2Up, trhRHdO2Lo), band(trhRHdO1Up, trhRHdO1Lo), band(trhRHdB2Up, trhRHdB2Lo), band(trhRHdB1Up, trhRHdB1Lo), trhClip)}</Panel2D>
      <Marginal s={P.p22} grid={logrGrid} oh={logrD8HD} bh={logrCnmHD} oc={logrD8CU} bc={logrCnmCU} q={{ oh: logrQD8HD, bh: logrQCnmHD, oc: logrQD8CU, bc: logrQCnmCU }} />
      <Panel2D s={P.p23}>{cuSet("d", rNCuO2, rNCuO1, rNCuB2, rNCuB1, noClip)}</Panel2D>
      <Panel2D s={P.p31}>{hdSet("e", band(trhNHdO2Up, trhNHdO2Lo), band(trhNHdO1Up, trhNHdO1Lo), band(trhNHdB2Up, trhNHdB2Lo), band(trhNHdB1Up, trhNHdB1Lo), trhClip)}</Panel2D>
      <Panel2D s={P.p32}>{hdSet("f", rNHdO2, rNHdO1, rNHdB2, rNHdB1, noClip)}</Panel2D>
      <Marginal s={P.p33} grid={ntGrid} oh={ntD8HD} bh={ntCnmHD} oc={ntD8CU} bc={ntCnmCU} q={{ oh: ntQD8HD, bh: ntQCnmHD, oc: ntQD8CU, bc: ntQCnmCU }} />

      {/* ---------- sound waves ---------- */}
      <Marginal s={P.q11} grid={tsGrid} oh={tsD8HD} bh={tsCnmHD} oc={tsD8CU} bc={tsCnmCU} q={{ oh: tsQD8HD, bh: tsQCnmHD, oc: tsQD8CU, bc: tsQCnmCU }} />
      <Panel2D s={P.q12}>{cuSet("g", taCuO2, taCuO1, taCuB2, taCuB1, taClip)}</Panel2D>
      <Panel2D s={P.q13}>{cuSet("h", thCuO2, thCuO1, thCuB2, thCuB1, thClip)}</Panel2D>
      <Panel2D s={P.q21}>{hdSet("i", taHdO2, taHdO1, taHdB2, taHdB1, taClip)}</Panel2D>
      <Marginal s={P.q22} grid={alGrid} oh={alD8HD} bh={alCnmHD} oc={alD8CU} bc={alCnmCU} q={{ oh: alQD8HD, bh: alQCnmHD, oc: alQD8CU, bc: alQCnmCU }} />
      <Panel2D s={P.q23}>{cuSet("j", ahCuO2, ahCuO1, ahCuB2, ahCuB1, ahClip)}</Panel2D>
      <Panel2D s={P.q31}>{hdSet("k", thHdO2, thHdO1, thHdB2, thHdB1, thClip)}</Panel2D>
      <Panel2D s={P.q32}>{hdSet("l", ahHdO2, ahHdO1, ahHdB2, ahHdB1, ahClip)}</Panel2D>
      <Marginal s={P.q33} grid={hrGrid} oh={hrD8HD} bh={hrCnmHD} oc={hrD8CU} bc={hrCnmCU} q={{ oh: hrQD8HD, bh: hrQCnmHD, oc: hrQD8CU, bc: hrQCnmCU }} />

      {/* badges and legends */}
      {[P.p12, P.p13, P.p23, P.q12, P.q13, P.q23].map((s, i) => <Badge key={"c" + i} s={s} kind="CURN" />)}
      {[P.p21, P.p31, P.p32, P.q21, P.q31, P.q32].map((s, i) => <Badge key={"h" + i} s={s} kind="HD" />)}
      <LegendBox x={P.p22.x + 2} y={P.p22.y + 4} />
      <LegendBox x={P.q22.x + 47} y={P.q22.y + 85} />

      {/* axis labels */}
      {[P.p11, P.p12, P.p13, P.p21, P.p31].map((s, i) => xLab(s, L.trh, "xt" + i))}
      {[P.p22, P.p23, P.p32].map((s, i) => xLab(s, L.r, "xr" + i))}
      {xLab(P.p33, L.nt, "xn")}
      {[P.q11, P.q12, P.q13, P.q21, P.q31].map((s, i) => xLab(s, L.ts, "xs" + i))}
      {[P.q22, P.q23, P.q32].map((s, i) => xLab(s, L.al, "xa" + i))}
      {xLab(P.q33, L.hr, "xh")}
      {[P.p12, P.p21].map((s, i) => yLab(s, L.r, "yr" + i))}
      {[P.p13, P.p23, P.p31, P.p32].map((s, i) => yLab(s, L.nt, "yn" + i))}
      {[P.q12, P.q21].map((s, i) => yLab(s, L.al, "ya" + i))}
      {[P.q13, P.q23, P.q31, P.q32].map((s, i) => yLab(s, L.hr, "yh" + i))}
    </div>
  );
}
